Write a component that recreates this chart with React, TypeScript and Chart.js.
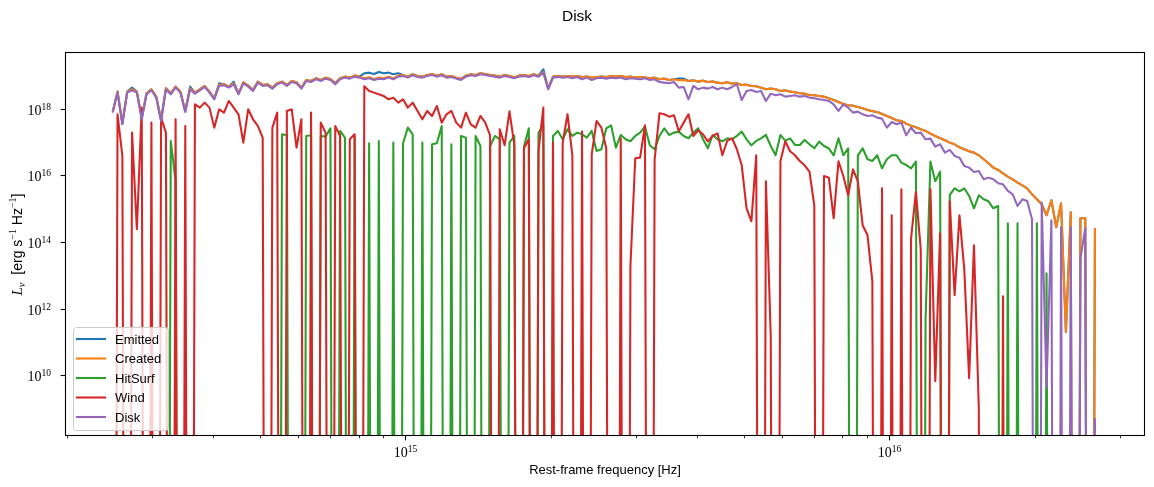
import React, { useEffect, useRef } from 'react';
import { Chart, registerables } from 'chart.js';

Chart.register(...registerables);

// A bin with no photons (L_nu = 0): drawn below the bottom of the log axis.
const Z = null;

// Spectral grid: log10(frequency / Hz) of the first bin and bin width in dex
const LOG_NU_START = 14.394;
const LOG_NU_STEP = 0.01;

// log10(L_nu / erg s^-1 Hz^-1), one value per frequency bin
const EMITTED = [
  17.93, 18.53, 17.58, 18.53, 18.65, 18.53, 17.73, 18.48, 18.60, 18.38,
  17.68, 18.63, 18.48, 18.68, 18.53, 17.95, 18.68, 18.50, 18.60, 18.70,
  18.53, 18.33, 18.78, 18.75, 18.68, 18.83, 18.48, 18.81, 18.71, 18.58,
  18.83, 18.73, 18.75, 18.65, 18.78, 18.83, 18.73, 18.85, 18.81, 18.65,
  18.88, 18.85, 18.93, 18.88, 18.95, 18.91, 18.78, 18.93, 18.98, 18.95,
  19.01, 18.98, 19.08, 19.10, 19.06, 19.12, 19.08, 19.10, 19.05, 19.08,
  19.03, 18.98, 19.05, 19.00, 18.98, 19.03, 19.06, 19.01, 19.05, 18.98,
  19.00, 18.95, 18.91, 19.01, 19.05, 19.03, 19.08, 19.06, 19.03, 19.01,
  18.98, 19.03, 19.00, 18.96, 19.01, 19.03, 19.00, 19.05, 19.01, 19.20,
  18.63, 18.98, 19.00, 18.98, 19.00, 18.98, 19.00, 18.97, 18.98, 18.95,
  18.97, 18.98, 18.97, 19.00, 18.98, 19.00, 18.97, 18.98, 18.95, 18.97,
  18.95, 18.93, 18.95, 18.90, 18.92, 18.88, 18.90, 18.92, 18.92, 18.85,
  18.87, 18.83, 18.86, 18.82, 18.83, 18.80, 18.78, 18.81, 18.77, 18.78,
  18.73, 18.74, 18.70, 18.69, 18.65, 18.60, 18.62, 18.60, 18.55, 18.57,
  18.53, 18.51, 18.48, 18.47, 18.43, 18.42, 18.40, 18.38, 18.33, 18.28,
  18.22, 18.16, 18.12, 18.11, 18.07, 18.03, 17.98, 17.94, 17.92, 17.86,
  17.80, 17.74, 17.67, 17.65, 17.57, 17.51, 17.46, 17.40, 17.35, 17.27,
  17.20, 17.13, 17.07, 17.00, 16.95, 16.86, 16.80, 16.74, 16.70, 16.62,
  16.50, 16.38, 16.25, 16.18, 16.08, 15.98, 15.90, 15.80, 15.72, 15.63,
  15.45, 15.30, 15.15, 14.82, 15.27, 14.46, 15.18, 11.31, 14.91, Z,
  14.73, 14.73, Z, 14.43,
];

const CREATED = [
  17.93, 18.53, 17.58, 18.53, 18.60, 18.53, 17.73, 18.48, 18.60, 18.38,
  17.68, 18.63, 18.48, 18.68, 18.53, 17.95, 18.63, 18.50, 18.60, 18.70,
  18.53, 18.33, 18.73, 18.75, 18.68, 18.78, 18.48, 18.81, 18.71, 18.58,
  18.83, 18.73, 18.75, 18.65, 18.78, 18.83, 18.73, 18.85, 18.81, 18.65,
  18.88, 18.85, 18.93, 18.88, 18.95, 18.91, 18.78, 18.93, 18.98, 18.95,
  19.01, 18.98, 18.93, 18.96, 18.91, 18.95, 18.93, 18.98, 18.93, 19.01,
  19.03, 18.98, 19.05, 19.00, 18.98, 19.03, 19.06, 19.01, 19.05, 18.98,
  19.00, 18.95, 18.91, 19.01, 19.05, 19.03, 19.08, 19.06, 19.03, 19.01,
  18.98, 19.03, 19.00, 18.96, 19.01, 19.03, 19.00, 19.05, 19.01, 19.12,
  18.63, 18.98, 19.00, 18.98, 19.00, 18.98, 19.00, 18.97, 18.98, 18.95,
  18.97, 18.98, 18.97, 19.00, 18.98, 19.00, 18.97, 18.98, 18.95, 18.97,
  18.95, 18.93, 18.95, 18.90, 18.92, 18.88, 18.90, 18.87, 18.88, 18.85,
  18.87, 18.83, 18.86, 18.82, 18.83, 18.80, 18.78, 18.81, 18.77, 18.78,
  18.73, 18.74, 18.70, 18.69, 18.65, 18.60, 18.62, 18.60, 18.55, 18.57,
  18.53, 18.51, 18.48, 18.47, 18.43, 18.42, 18.40, 18.38, 18.33, 18.28,
  18.22, 18.16, 18.12, 18.11, 18.07, 18.03, 17.98, 17.94, 17.92, 17.86,
  17.80, 17.74, 17.67, 17.65, 17.57, 17.51, 17.46, 17.40, 17.35, 17.27,
  17.20, 17.13, 17.07, 17.00, 16.95, 16.86, 16.80, 16.74, 16.70, 16.62,
  16.50, 16.38, 16.25, 16.18, 16.08, 15.98, 15.90, 15.80, 15.72, 15.63,
  15.45, 15.30, 15.15, 14.82, 15.27, 14.46, 15.18, 11.31, 14.91, Z,
  14.73, 14.73, Z, 14.43,
];

const HITSURF = [
  Z, Z, Z, Z, Z, Z, Z, Z, Z, Z,
  Z, Z, 17.05, 15.85, Z, Z, Z, Z, Z, Z,
  Z, Z, Z, Z, Z, Z, Z, Z, Z, Z,
  Z, Z, Z, Z, Z, 17.25, 17.22, Z, Z, Z,
  17.20, 17.22, Z, 17.20, 17.18, 17.43, Z, 17.35, 17.15, Z,
  17.17, Z, Z, 16.98, Z, 17.05, Z, Z, 17.00, Z,
  16.98, 17.45, 17.25, Z, 17.00, Z, 16.95, 16.98, 17.50, Z,
  16.95, Z, 17.20, 17.15, Z, 17.20, 16.90, Z, 16.90, 17.20,
  17.10, Z, 17.00, 17.20, Z, 16.88, 17.43, Z, 17.30, 17.52,
  Z, 17.20, 17.35, 17.10, 17.40, 17.20, 17.30, 17.25, 17.15, 17.35,
  16.75, 16.80, 17.43, 17.52, 16.85, 17.23, 17.10, 17.04, 17.20, 17.30,
  17.49, 16.92, 16.80, 17.20, 17.43, 17.23, 17.30, 17.33, 17.20, 17.13,
  17.30, 17.43, 17.10, 16.83, 17.23, 17.10, 17.04, 17.13, 17.10, 17.20,
  17.33, 17.10, 16.92, 17.05, 17.13, 17.23, 16.90, 16.62, 17.23, 17.05,
  17.13, 16.93, 16.93, 17.08, 16.95, 16.83, 17.03, 16.90, 16.83, 16.62,
  17.13, 16.62, 16.83, Z, 16.62, 16.83, 16.50, 16.45, 16.62, 16.23,
  16.50, 16.62, 16.62, 16.40, 16.33, 16.23, 16.43, Z, 11.73, 16.43,
  15.84, 16.13, Z, 15.43, 15.63, 15.54, 15.63, 15.40, 15.03, 15.42,
  15.30, 15.24, 15.03, 15.10, Z, 14.58, Z, 14.58, Z, Z,
  Z, 14.58, Z, 13.08, Z, Z, Z, Z, Z, Z,
  Z, Z, Z, Z,
];

const WIND = [
  Z, 17.85, 16.60, Z, 17.30, 14.40, 18.05, Z, 17.60, Z,
  17.75, 17.30, Z, 17.70, Z, 17.50, Z, 18.15, 18.05, 18.20,
  18.05, 17.45, 18.00, 17.90, 18.25, 18.05, 17.85, 17.00, 18.00, 17.70,
  17.50, 17.15, Z, 17.45, 17.90, Z, 17.95, 18.00, 16.85, 17.70,
  Z, 17.90, Z, 17.60, 17.30, Z, 17.50, 17.20, Z, 17.10,
  17.25, Z, 18.69, 18.55, 18.50, 18.45, 18.40, 18.30, 18.35, 18.20,
  18.30, 18.05, 18.20, 17.95, 17.70, 17.95, 17.80, 18.10, 17.60, 17.85,
  17.95, 17.60, 17.45, 17.90, 17.55, 17.45, 17.80, 17.60, 17.22, Z,
  17.40, 16.92, 17.94, 16.95, Z, 16.83, 17.10, Z, 16.75, 18.05,
  Z, 17.00, Z, 17.00, 17.85, 16.62, Z, 17.33, Z, 16.65,
  17.65, 17.45, 16.83, Z, Z, 17.13, Z, 13.30, 16.53, 16.55,
  17.52, Z, 16.50, 17.88, 17.85, 17.78, 17.82, 17.34, 17.60, 17.85,
  17.20, 17.37, 17.25, 17.04, 17.20, 17.28, 16.62, 17.05, 17.13, 16.80,
  16.32, 15.03, 14.64, 16.62, Z, 15.84, 11.20, Z, 16.44, 17.04,
  16.74, 16.62, 16.45, 16.32, 16.13, 15.12, Z, 16.00, 15.95, 14.73,
  16.44, 16.00, 15.42, 16.20, 15.84, 14.52, 14.22, 12.84, Z, 15.63,
  Z, 14.82, Z, 15.60, Z, 14.12, 15.52, 13.80, Z, 15.60,
  9.84, 14.28, Z, 15.24, 12.42, 14.82, 13.20, 9.93, 13.92, 9.03,
  Z, Z, Z, Z, 12.39, Z, Z, Z, Z, Z,
  Z, Z, Z, Z, Z, Z, Z, Z, Z, Z,
  Z, Z, Z, Z,
];

const DISK = [
  17.90, 18.50, 17.55, 18.50, 18.57, 18.50, 17.70, 18.45, 18.57, 18.35,
  17.65, 18.60, 18.45, 18.65, 18.50, 17.92, 18.60, 18.47, 18.57, 18.67,
  18.50, 18.30, 18.70, 18.72, 18.65, 18.75, 18.45, 18.78, 18.68, 18.55,
  18.80, 18.70, 18.72, 18.62, 18.75, 18.80, 18.70, 18.82, 18.78, 18.62,
  18.85, 18.82, 18.90, 18.85, 18.92, 18.88, 18.75, 18.90, 18.95, 18.92,
  18.98, 18.95, 18.90, 18.93, 18.88, 18.92, 18.90, 18.95, 18.90, 18.98,
  19.00, 18.95, 19.02, 18.97, 18.95, 19.00, 19.03, 18.98, 19.02, 18.95,
  18.97, 18.92, 18.88, 18.98, 19.02, 19.00, 19.05, 19.03, 19.00, 18.98,
  18.95, 19.00, 18.97, 18.93, 18.98, 19.00, 18.97, 19.02, 18.98, 19.10,
  18.60, 18.95, 18.97, 18.95, 18.97, 18.93, 18.97, 18.90, 18.95, 18.88,
  18.93, 18.95, 18.92, 18.95, 18.93, 18.95, 18.90, 18.93, 18.92, 18.90,
  18.93, 18.88, 18.90, 18.82, 18.80, 18.78, 18.82, 18.65, 18.67, 18.30,
  18.70, 18.60, 18.65, 18.62, 18.67, 18.60, 18.65, 18.60, 18.67, 18.75,
  18.28, 18.55, 18.58, 18.52, 18.55, 18.25, 18.47, 18.42, 18.45, 18.38,
  18.40, 18.42, 18.38, 18.40, 18.35, 18.33, 18.30, 18.28, 18.25, 18.15,
  17.95, 18.15, 18.05, 17.90, 17.93, 17.85, 17.80, 17.82, 17.75, 17.72,
  17.45, 17.62, 17.55, 17.60, 17.22, 17.45, 17.28, 17.30, 17.10, 17.12,
  16.88, 16.95, 16.70, 16.78, 16.60, 16.55, 16.30, 16.25, 16.12, 16.15,
  15.90, 15.95, 15.90, 15.78, 15.75, 15.55, 15.45, 15.10, 15.30, 15.25,
  14.70, Z, 15.20, 9.66, 14.67, Z, 14.46, Z, 14.46, Z,
  13.53, 14.43, Z, 8.73,
];

const SERIES_NAMES = ['Emitted', 'Created', 'HitSurf', 'Wind', 'Disk'];
const SERIES_COLORS = ['#1f77b4', '#ff7f0e', '#2ca02c', '#d62728', '#9467bd'];
const SERIES_VALUES = [EMITTED, CREATED, HITSURF, WIND, DISK];

// Axis ranges (Hz and erg/s/Hz)
const X_MIN = 10 ** 14.2975;
const X_MAX = 10 ** 16.5254;
const Y_MIN = 10 ** 8.198;
const Y_MAX = 10 ** 19.689;

const X_MAJOR_TICKS = [1e15, 1e16];
const X_MINOR_TICKS = [
  2e14, 3e14, 4e14, 5e14, 6e14, 7e14, 8e14, 9e14,
  2e15, 3e15, 4e15, 5e15, 6e15, 7e15, 8e15, 9e15,
  2e16, 3e16,
];
const Y_MAJOR_TICKS = [1e10, 1e12, 1e14, 1e16, 1e18];

const TITLE = 'Disk';
const X_LABEL = 'Rest-frame frequency [Hz]';

const FLOOR = 1e-30; // where zero-valued bins are drawn (far below the axis)

const SANS = '"Liberation Sans", Arial, sans-serif';
const SERIF = '"Liberation Serif", "Times New Roman", serif';

const FREQ = DISK.map((_, i) => 10 ** (LOG_NU_START + LOG_NU_STEP * i));

function toPoints(arr: (number | null)[]) {
  return arr.map((v, i) => ({ x: FREQ[i], y: v === null ? FLOOR : 10 ** v }));
}

function drawPower(
  ctx: CanvasRenderingContext2D,
  value: number,
  anchorX: number,
  baseline: number,
  align: 'center' | 'right',
) {
  const exp = String(Math.round(Math.log10(value)));
  ctx.font = `14px ${SERIF}`;
  const wBase = ctx.measureText('10').width;
  ctx.font = `9.5px ${SERIF}`;
  const wExp = ctx.measureText(exp).width;
  const total = wBase + wExp;
  const start = align === 'center' ? anchorX - total / 2 : anchorX - total;
  ctx.textAlign = 'left';
  ctx.textBaseline = 'alphabetic';
  ctx.font = `14px ${SERIF}`;
  ctx.fillText('10', start, baseline);
  ctx.font = `9.5px ${SERIF}`;
  ctx.fillText(exp, start + wBase, baseline - 5);
}

const framePlugin = {
  id: 'mplFrame',
  afterDraw(chart: any) {
    const { ctx, chartArea: a, scales } = chart;
    const xs = scales.x;
    const ys = scales.y;
    const L = a.left - 0.5;
    const R = a.right + 0.5;
    const T = a.top - 0.5;
    const B = a.bottom - 0.5;
    ctx.save();
    ctx.fillStyle = '#000';
    ctx.strokeStyle = '#000';

    // spines
    ctx.lineWidth = 1.1;
    ctx.strokeRect(L, T, R - L, B - T);

    // x ticks
    ctx.lineCap = 'butt';
    ctx.lineWidth = 0.8;
    for (const v of X_MINOR_TICKS) {
      const p = Math.round(xs.getPixelForValue(v) - 0.5) + 0.5;
      ctx.beginPath();
      ctx.moveTo(p, B);
      ctx.lineTo(p, B + 2.8);
      ctx.stroke();
    }
    ctx.lineWidth = 1.1;
    for (const v of X_MAJOR_TICKS) {
      const p = Math.round(xs.getPixelForValue(v) - 0.5) + 0.5;
      ctx.beginPath();
      ctx.moveTo(p, B);
      ctx.lineTo(p, B + 4.9);
      ctx.stroke();
      drawPower(ctx, v, p, 457, 'center');
    }
    // y ticks
    for (const v of Y_MAJOR_TICKS) {
      const p = Math.round(ys.getPixelForValue(v) - 0.5) + 0.5;
      ctx.beginPath();
      ctx.moveTo(L - 4.9, p);
      ctx.lineTo(L, p);
      ctx.stroke();
      drawPower(ctx, v, 51, p + 5, 'right');
    }

    // title
    ctx.textAlign = 'center';
    ctx.textBaseline = 'alphabetic';
    ctx.font = `15.5px ${SANS}`;
    ctx.fillText(TITLE, chart.width / 2, 21);

    // x label
    ctx.font = `13px ${SANS}`;
    ctx.fillText(X_LABEL, (a.left + a.right) / 2, 474);

    // y label: L_nu [erg s^-1 Hz^-1]
    const parts: [string, string, number][] = [
      ['L', `italic 15px ${SERIF}`, 0],
      ['\u03bd', `italic 10.5px ${SERIF}`, 3],
      ['  [erg s', `14px ${SANS}`, 0],
      ['\u22121', `10px ${SERIF}`, -6],
      [' Hz', `14px ${SANS}`, 0],
      ['\u22121', `10px ${SERIF}`, -6],
      [']', `14px ${SANS}`, 0],
    ];
    let total = 0;
    const widths = parts.map(([t, f]) => {
      ctx.font = f;
      const w = ctx.measureText(t).width;
      total += w;
      return w;
    });
    ctx.save();
    ctx.translate(22, (a.top + a.bottom) / 2);
    ctx.rotate(-Math.PI / 2);
    ctx.textAlign = 'left';
    let cx = -total / 2;
    parts.forEach(([t, f, dy], k) => {
      ctx.font = f;
      ctx.fillText(t, cx, dy);
      cx += widths[k];
    });
    ctx.restore();

    // legend
    const bx = 73.5;
    const by = 327.5;
    const bw = 95;
    const bh = 103;
    const r = 3;
    ctx.beginPath();
    ctx.moveTo(bx + r, by);
    ctx.lineTo(bx + bw - r, by);
    ctx.quadraticCurveTo(bx + bw, by, bx + bw, by + r);
    ctx.lineTo(bx + bw, by + bh - r);
    ctx.quadraticCurveTo(bx + bw, by + bh, bx + bw - r, by + bh);
    ctx.lineTo(bx + r, by + bh);
    ctx.quadraticCurveTo(bx, by + bh, bx, by + bh - r);
    ctx.lineTo(bx, by + r);
    ctx.quadraticCurveTo(bx, by, bx + r, by);
    ctx.closePath();
    ctx.fillStyle = 'rgba(255,255,255,0.8)';
    ctx.fill();
    ctx.strokeStyle = '#cccccc';
    ctx.lineWidth = 1;
    ctx.stroke();

    ctx.font = `13px ${SANS}`;
    ctx.textAlign = 'left';
    SERIES_NAMES.forEach((name, k) => {
      const y = 339 + 19.5 * k;
      ctx.strokeStyle = SERIES_COLORS[k];
      ctx.lineWidth = 2.08;
      ctx.lineCap = 'square';
      ctx.beginPath();
      ctx.moveTo(77, y);
      ctx.lineTo(105, y);
      ctx.stroke();
      ctx.fillStyle = '#000';
      ctx.fillText(name, 115, y + 4.5);
    });
    ctx.restore();
  },
};

export default function App() {
  const ref = useRef<HTMLCanvasElement>(null);
  useEffect(() => {
    if (!ref.current) return;
    const datasets = SERIES_NAMES.map((name, k) => ({
      label: name,
      data: toPoints(SERIES_VALUES[k]),
      borderColor: SERIES_COLORS[k],
      backgroundColor: SERIES_COLORS[k],
      borderWidth: 2.08,
      pointRadius: 0,
      tension: 0,
      fill: false,
      borderJoinStyle: 'round' as const,
      clip: { left: 0, top: 0, right: 0, bottom: 0 },
      order: SERIES_NAMES.length - k,
    }));
    const chart = new Chart(ref.current, {
      type: 'line',
      data: { datasets },
      options: {
        responsive: false,
        animation: false,
        devicePixelRatio: 1,
        events: [],
        layout: { padding: { left: 66, right: 10, top: 53, bottom: 51 } },
        plugins: {
          legend: { display: false },
          title: { display: false },
          tooltip: { enabled: false },
        },
        scales: {
          x: { type: 'logarithmic', min: X_MIN, max: X_MAX, display: false, bounds: 'data' },
          y: { type: 'logarithmic', min: Y_MIN, max: Y_MAX, display: false, bounds: 'data' },
        },
      },
      plugins: [framePlugin],
    } as any);
    return () => chart.destroy();
  }, []);
  return (
    <div style={{ position: 'absolute', left: 0, top: 0, width: 1154, height: 487, background: '#fff' }}>
      <canvas ref={ref} width={1154} height={487} style={{ display: 'block', width: 1154, height: 487 }} />
    </div>
  );
}
